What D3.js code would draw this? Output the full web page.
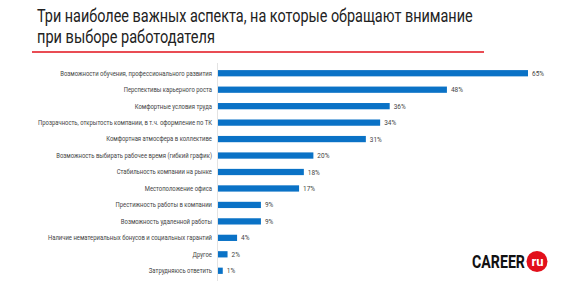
<!DOCTYPE html>
<html>
<head>
<meta charset="utf-8">
<script src="https://cdn.jsdelivr.net/npm/d3@7"></script>
<style>
  body { margin: 0; background: #fff; }
  svg text { font-family: 'Roboto', sans-serif; }
</style>
</head>
<body>
<div id="chart"></div>
<script>
var categories = [
  "Возможности обучения, профессионального развития",
  "Перспективы карьерного роста",
  "Комфортные условия труда",
  "Прозрачность, открытость компании, в т.ч. оформление по ТК",
  "Комфортная атмосфера в коллективе",
  "Возможность выбирать рабочее время (гибкий график)",
  "Стабильность компании на рынке",
  "Местоположение офиса",
  "Престижность работы в компании",
  "Возможность удаленной работы",
  "Наличие нематериальных бонусов и социальных гарантий",
  "Другое",
  "Затрудняюсь ответить"
];
var values = [65, 48, 36, 34, 31, 20, 18, 17, 9, 9, 4, 2, 1];
var titleLines = ["Три наиболее важных аспекта, на которые обращают внимание",
                  "при выборе работодателя"];

var width = 563, height = 285;
var svg = d3.select("#chart").append("svg")
    .attr("width", width)
    .attr("height", height);

// squeeze a text horizontally around its anchor x (condensed font look)
function squeeze(sel, k, ax) {
  sel.each(function() {
    var t = d3.select(this);
    var px = ax != null ? ax : +t.attr("x");
    t.attr("transform", "translate(" + px + ",0) scale(" + k + ",1) translate(" + (-px) + ",0)");
  });
}

// title
var titleWidths = [436, 178];
svg.selectAll("text.title")
  .data(titleLines)
  .enter().append("text")
    .attr("class", "title")
    .attr("x", 37)
    .attr("y", (d, i) => 22 + i * 21.5)
    .attr("font-size", 18)
    .attr("fill", "#222")
    .text(d => d)
    .each(function(d, i) {
      var k = titleWidths[i] / this.getComputedTextLength();
      squeeze(d3.select(this), k);
    });

svg.append("line")
    .attr("x1", 32).attr("x2", 484)
    .attr("y1", 52).attr("y2", 52)
    .attr("stroke", "#e2101b")
    .attr("stroke-width", 1.5);

var x = d3.scaleLinear().domain([0, 65]).range([218, 528]);
var y = d3.scaleBand().domain(categories).range([65, 279]).paddingInner(0.62).paddingOuter(0.31);

// axis line
svg.append("line")
    .attr("x1", 217.5).attr("x2", 217.5)
    .attr("y1", 63).attr("y2", 281)
    .attr("stroke", "#e3e3e3");

svg.selectAll("rect.bar")
  .data(values)
  .enter().append("rect")
    .attr("class", "bar")
    .attr("x", x(0))
    .attr("y", (d, i) => y(categories[i]))
    .attr("width", d => x(d) - x(0))
    .attr("height", y.bandwidth())
    .attr("fill", "#0a72c6");

svg.selectAll("text.cat")
  .data(categories)
  .enter().append("text")
    .attr("class", "cat")
    .attr("x", 212)
    .attr("y", d => y(d) + y.bandwidth() / 2)
    .attr("dy", "0.35em")
    .attr("text-anchor", "end")
    .attr("font-size", 6.8)
    .attr("fill", "#444")
    .text(d => d)
    .call(squeeze, 0.87);

svg.selectAll("text.val")
  .data(values)
  .enter().append("text")
    .attr("class", "val")
    .attr("x", d => x(d) + 4)
    .attr("y", (d, i) => y(categories[i]) + y.bandwidth() / 2)
    .attr("dy", "0.35em")
    .attr("font-size", 7.2)
    .attr("fill", "#444")
    .text(d => d + "%")
    .call(squeeze, 0.9);

// logo
var logo = svg.append("g").attr("transform", "translate(472,268)");
logo.append("text")
    .attr("x", 0).attr("y", 0)
    .attr("font-size", 17.5)
    .attr("font-weight", "bold")
    .attr("fill", "#111")
    .text("CAREER")
    .each(function() {
      squeeze(d3.select(this), 53 / this.getComputedTextLength());
    });
logo.append("circle")
    .attr("cx", 65).attr("cy", -6.5)
    .attr("r", 10.5)
    .attr("fill", "#e2101b");
logo.append("text")
    .attr("x", 65.5).attr("y", -2)
    .attr("text-anchor", "middle")
    .attr("font-size", 13)
    .attr("font-weight", "bold")
    .attr("fill", "#fff")
    .text("ru");
</script>
</body>
</html>
